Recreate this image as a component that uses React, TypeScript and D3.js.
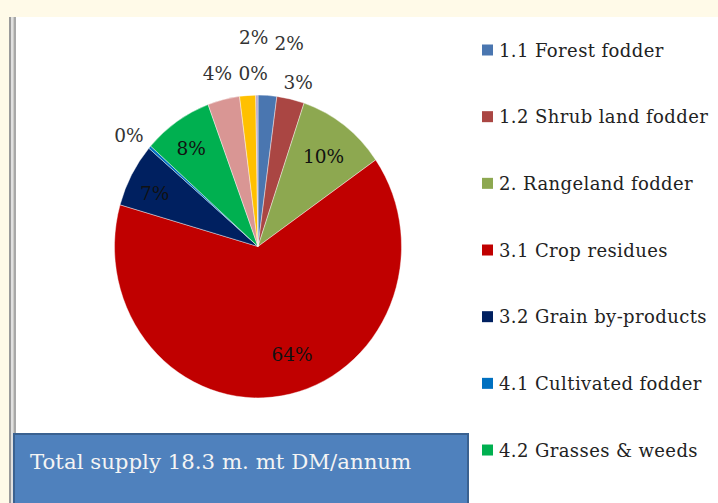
import React from "react";
import * as d3 from "d3";

// ---- data ----
const categories = [
  "1.1  Forest fodder",
  "1.2 Shrub land fodder",
  "2. Rangeland fodder",
  "3.1 Crop residues",
  "3.2 Grain by-products",
  "4.1 Cultivated fodder",
  "4.2 Grasses & weeds",
  "5. Other",
  "6. Other",
  "7. Other",
];
const shares = [2.1, 3.1, 10.1, 64.1, 6.8, 0.3, 7.8, 3.6, 1.8, 0.25];
const legendCount = 7;
const totalText = "Total supply 18.3 m. mt DM/annum";

// ---- styles / layout ----
const colors = [
  "#4A76B0", "#AA4643", "#8DA850", "#C00000", "#002060",
  "#0070C0", "#00B050", "#D99694", "#FFC000", "#B3A2C7",
];
// label radius factor and angular nudge (deg) per slice
const labelRadius = [1.36, 1.12, 0.75, 0.75, 0.8, 1.16, 0.8, 1.18, 1.38, 1.14];
const labelNudge = [5.4, 1.3, 0.6, -9, -2.5, -1.9, -1.2, 0, 2.9, -1.2];

const W = 718, H = 503;
const cx = 258, cy = 246.5, R = 143.5, sy = 1.055;
const serif = "'DejaVu Serif', serif";

export default function App() {
  const pie = d3.pie<number>().sort(null).value((d) => d);
  const arcs = pie(shares);
  const arc = d3.arc<d3.PieArcDatum<number>>().innerRadius(0).outerRadius(R);
  const total = d3.sum(shares);
  const fmt = (v: number) => `${Math.round((v / total) * 100)}%`;
  const legendY = d3.scaleLinear().domain([0, 1]).range([50, 116.67]);

  return (
    <svg
      width={W}
      height={H}
      style={{ position: "absolute", left: 0, top: 0, display: "block" }}
    >
      <rect x={0} y={0} width={W} height={H} fill="#FFFAE8" />
      <rect x={16} y={17} width={W - 16} height={H - 17} fill="#FFFFFF" />
      <rect x={9} y={17} width={2} height={H - 17} fill="#9A9A9A" />
      <rect x={11} y={17} width={2.5} height={H - 17} fill="#E0E0E0" />
      <rect x={13.5} y={17} width={2.5} height={H - 17} fill="#A8A8A8" />

      <g transform={`translate(${cx},${cy}) scale(1,${sy})`}>
        {arcs.map((a, i) => (
          <path key={i} d={arc(a) || ""} fill={colors[i]} stroke="#FFFFFF" strokeWidth={0.4} />
        ))}
      </g>

      {arcs.map((a, i) => {
        const mid = (a.startAngle + a.endAngle) / 2 + (labelNudge[i] * Math.PI) / 180;
        const rr = R * labelRadius[i];
        const x = cx + rr * Math.sin(mid);
        const y = cy - rr * Math.cos(mid) * sy;
        const inside = labelRadius[i] < 1;
        return (
          <text
            key={i}
            x={x}
            y={y}
            textAnchor="middle"
            dominantBaseline="central"
            fontFamily={serif}
            fontSize={18.5}
            fill={inside ? "#111" : "#333"}
          >
            {fmt(shares[i])}
          </text>
        );
      })}

      {categories.slice(0, legendCount).map((c, i) => (
        <g key={c} transform={`translate(482,${legendY(i)})`}>
          <rect x={0} y={-5.5} width={11} height={11} fill={colors[i]} />
          <text
            x={17}
            y={0}
            dominantBaseline="central"
            fontFamily={serif}
            fontSize={18}
            letterSpacing={0.4}
            fill="#222"
          >
            {c}
          </text>
        </g>
      ))}

      <rect x={14} y={434} width={454} height={80} fill="#4F81BD" stroke="#3A6190" strokeWidth={2} />
      <text
        x={30}
        y={461}
        dominantBaseline="central"
        fontFamily={serif}
        fontSize={21.3}
        fill="#F4F4F4"
      >
        {totalText}
      </text>
    </svg>
  );
}
